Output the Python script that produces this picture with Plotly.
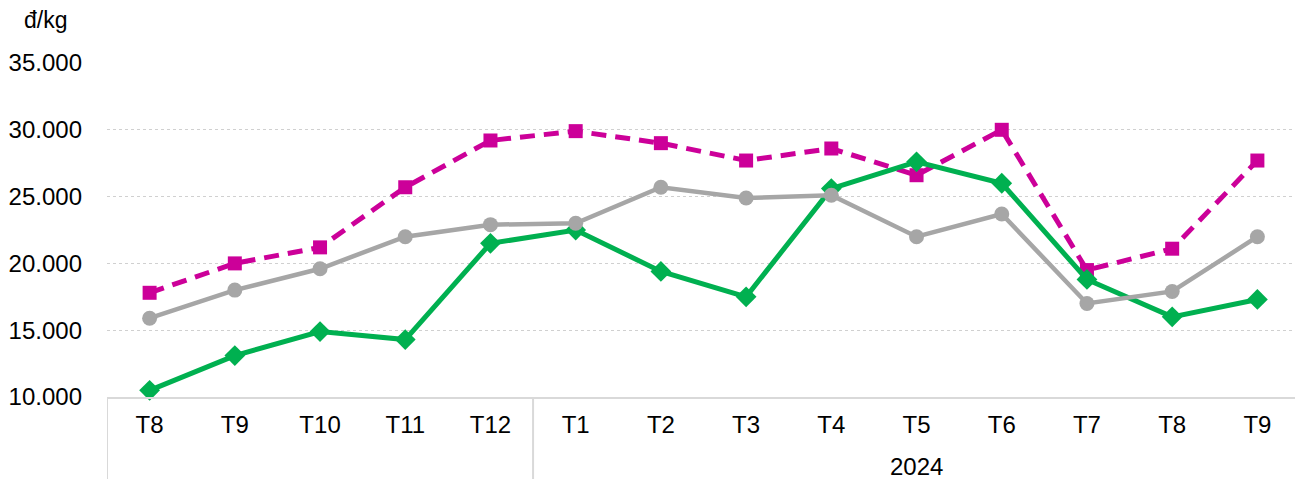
import plotly.graph_objects as go

months = ["T8", "T9", "T10", "T11", "T12", "T1", "T2", "T3", "T4", "T5", "T6", "T7", "T8", "T9"]
year_groups = [("", 0, 4), ("2024", 5, 13)]

magenta_vals = [17800, 20000, 21200, 25700, 29200, 29900, 29000, 27700, 28600, 26600, 30000, 19500, 21100, 27700]
gray_vals = [15900, 18000, 19600, 22000, 22900, 23000, 25700, 24900, 25100, 22000, 23700, 17000, 17900, 22000]
green_vals = [10500, 13100, 14900, 14300, 21500, 22500, 19400, 17500, 25600, 27600, 26000, 18800, 16000, 17300]

y_ticks = [10000, 15000, 20000, 25000, 30000, 35000]

idx = list(range(len(months)))
FONT = "Liberation Sans, Arial, sans-serif"

fig = go.Figure()
fig.add_trace(go.Scatter(
    x=idx, y=magenta_vals, mode="lines+markers",
    line=dict(color="#CC0099", width=5, dash="15px,9px"),
    marker=dict(symbol="square", size=14, color="#CC0099"),
    cliponaxis=False,
))
fig.add_trace(go.Scatter(
    x=idx, y=green_vals, mode="lines+markers",
    line=dict(color="#00B050", width=5),
    marker=dict(symbol="diamond", size=16, color="#00B050"),
    cliponaxis=False,
))
fig.add_trace(go.Scatter(
    x=idx, y=gray_vals, mode="lines+markers",
    line=dict(color="#A6A6A6", width=4.5),
    marker=dict(symbol="circle", size=15, color="#A6A6A6"),
    cliponaxis=False,
))

shapes = []
annotations = [dict(
    text="đ/kg", xref="paper", yref="paper", x=-0.0712, y=1.129,
    xanchor="left", yanchor="middle", showarrow=False,
    font=dict(family=FONT, size=23, color="#000000"),
)]
bounds = [-0.5]
for name, a, b in year_groups:
    bounds.append(b + 0.5)
    if name:
        annotations.append(dict(
            text=name, xref="x", yref="paper", x=(a + b) / 2, y=-0.207,
            xanchor="center", yanchor="middle", showarrow=False,
            font=dict(family=FONT, size=24, color="#000000"),
        ))
for bx in bounds:
    shapes.append(dict(type="line", xref="x", yref="paper", x0=bx, x1=bx, y0=0, y1=-0.25,
                       line=dict(color="#D9D9D9", width=2)))

fig.update_layout(
    width=1295, height=471,
    margin=dict(l=99, r=3, t=55, b=82),
    paper_bgcolor="white", plot_bgcolor="white",
    showlegend=False,
    separators=",.",
    font=dict(family=FONT, size=24, color="#000000"),
    annotations=annotations,
    shapes=shapes,
)
fig.update_yaxes(
    range=[10000, 35000], tickvals=y_ticks,
    tickformat=",d", showgrid=True, gridcolor="#D0D0D0", griddash="dot", gridwidth=1,
    zeroline=False, showline=False, ticks="", ticklabelstandoff=24, automargin=False,
    tickfont=dict(family=FONT, size=24, color="#000000"),
)
fig.update_xaxes(
    range=[-0.5, len(months) - 0.5], tickvals=idx, ticktext=months,
    showline=True, linecolor="#D9D9D9", linewidth=2,
    ticks="", showgrid=False, zeroline=False, automargin=False, ticklabelstandoff=5,
    tickfont=dict(family=FONT, size=24, color="#000000"),
)

fig.write_html("out.html")
